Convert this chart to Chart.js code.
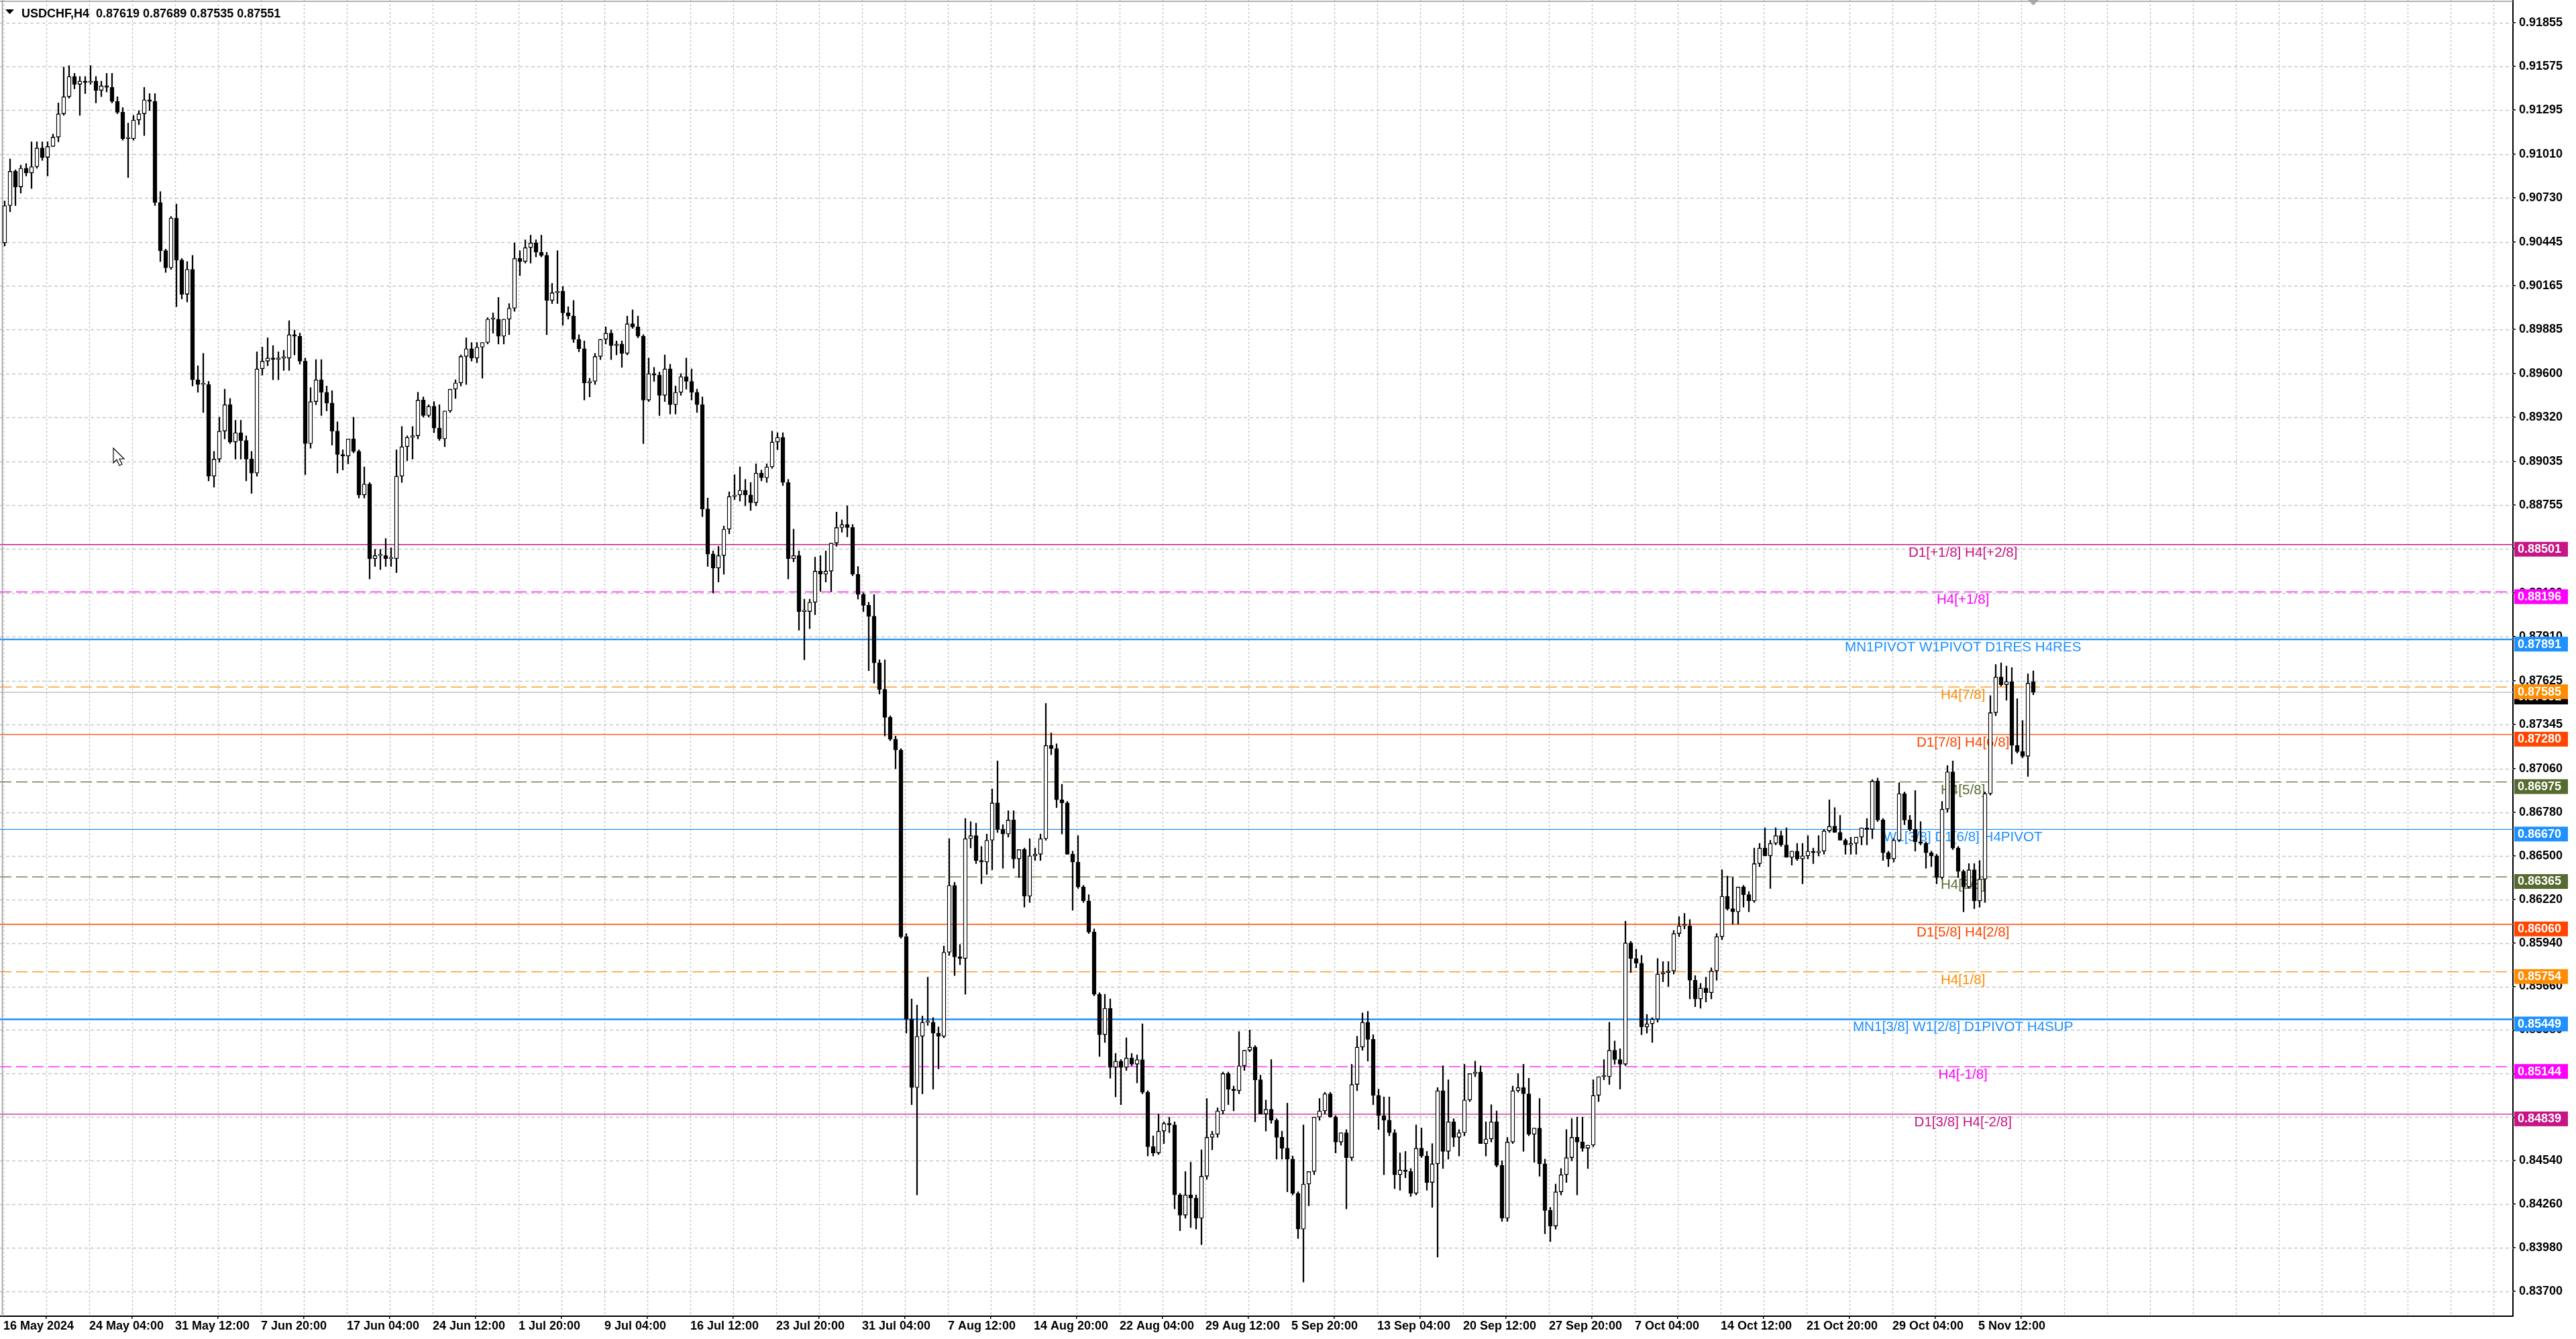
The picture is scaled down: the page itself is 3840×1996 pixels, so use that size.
<!DOCTYPE html>
<html>
<head>
<meta charset="utf-8">
<script src="https://cdn.jsdelivr.net/npm/chart.js@4.4.1/dist/chart.umd.min.js"></script>
<style>
html,body{margin:0;padding:0;background:#fff;overflow:hidden;}
#wrap{width:3840px;height:1996px;position:relative;}
canvas{display:block;}
</style>
</head>
<body>
<div id="wrap"><canvas id="c" width="3840" height="1996"></canvas></div>
<script>
// ---- data: USDCHF H4, each candle (two H4 bars per candle) ----
const OPEN = [
.9044,.9068,.9090,.9080,.9092,.9089,.9093,.9105,.9099,.9106,
.9112,.9127,.9138,.9151,.9146,.9148,.9147,.9148,.9142,.9145,
.9144,.9135,.9128,.9111,.9111,.9123,.9127,.9136,.9135,.9070,
.9039,.9028,.9060,.9033,.9011,.9027,.8956,.8953,.8953,.8894,
.8905,.8923,.8940,.8916,.8922,.8917,.8905,.8896,.8963,.8968,
.8970,.8969,.8970,.8970,.8985,.8984,.8968,.8915,.8942,.8956,
.8948,.8941,.8923,.8908,.8907,.8918,.8910,.8882,.8889,.8841,
.8843,.8843,.8841,.8841,.8894,.8913,.8919,.8920,.8943,.8933,
.8939,.8925,.8918,.8936,.8950,.8954,.8971,.8976,.8970,.8977,
.8980,.8995,.8995,.8984,.8995,.9002,.9034,.9032,.9041,.9044,
.9038,.9036,.9007,.9012,.9013,.8999,.8997,.8982,.8976,.8954,
.8955,.8971,.8982,.8986,.8978,.8979,.8973,.8992,.8990,.8984,
.8943,.8960,.8959,.8946,.8963,.8940,.8948,.8958,.8955,.8948,
.8940,.8873,.8844,.8835,.8843,.8860,.8881,.8882,.8885,.8882,
.8877,.8896,.8893,.8900,.8916,.8919,.8890,.8841,.8843,.8807,
.8807,.8813,.8833,.8831,.8833,.8851,.8861,.8863,.8861,.8831,
.8818,.8811,.8804,.8774,.8757,.8739,.8725,.8718,.8598,.8545,
.8501,.8534,.8543,.8543,.8536,.8534,.8588,.8631,.8585,.8584,
.8661,.8663,.8647,.8646,.8660,.8684,.8667,.8664,.8673,.8648,
.8654,.8624,.8650,.8651,.8661,.8721,.8719,.8686,.8684,.8651,
.8646,.8630,.8621,.8601,.8561,.8535,.8552,.8514,.8518,.8514,
.8520,.8516,.8519,.8498,.8463,.8459,.8473,.8478,.8477,.8432,
.8419,.8432,.8430,.8417,.8444,.8469,.8471,.8486,.8510,.8500,
.8499,.8515,.8525,.8527,.8506,.8484,.8487,.8480,.8469,.8462,
.8455,.8433,.8410,.8439,.8447,.8482,.8486,.8497,.8482,.8466,
.8472,.8456,.8503,.8527,.8543,.8532,.8496,.8483,.8480,.8472,
.8445,.8448,.8447,.8433,.8462,.8457,.8440,.8452,.8499,.8460,
.8479,.8469,.8472,.8493,.8510,.8511,.8465,.8468,.8479,.8451,
.8417,.8466,.8499,.8501,.8497,.8471,.8475,.8452,.8422,.8412,
.8434,.8445,.8456,.8469,.8466,.8462,.8464,.8496,.8508,.8508,
.8525,.8519,.8516,.8594,.8584,.8581,.8540,.8542,.8545,.8574,
.8575,.8576,.8600,.8605,.8605,.8570,.8558,.8565,.8562,.8576,
.8598,.8624,.8616,.8614,.8630,.8625,.8621,.8645,.8655,.8650,
.8658,.8663,.8657,.8649,.8653,.8648,.8650,.8653,.8652,.8653,
.8666,.8669,.8665,.8660,.8657,.8658,.8662,.8668,.8667,.8698,
.8673,.8652,.8648,.8660,.8690,.8673,.8667,.8659,.8658,.8652,
.8650,.8636,.8680,.8704,.8655,.8640,.8630,.8641,.8621,.8635,
.8690,.8742,.8765,.8760,.8762,.8721,.8717,.8714,.87619
];
const HIGH = [
.9071,.9098,.9091,.9094,.9095,.9109,.9109,.9109,.9109,.9114,
.9134,.9157,.9158,.9153,.9151,.9151,.9158,.9151,.9148,.9153,
.9153,.9138,.9131,.9121,.9126,.9129,.9144,.9140,.9140,.9077,
.9040,.9061,.9069,.9034,.9032,.9036,.8965,.8973,.8955,.8910,
.8932,.8950,.8944,.8930,.8930,.8920,.8910,.8974,.8977,.8983,
.8978,.8974,.8975,.8994,.8988,.8986,.8970,.8951,.8969,.8969,
.8952,.8949,.8929,.8911,.8918,.8932,.8911,.8900,.8890,.8847,
.8847,.8854,.8848,.8911,.8926,.8920,.8926,.8948,.8945,.8940,
.8942,.8940,.8936,.8950,.8956,.8972,.8983,.8980,.8980,.8980,
.8996,.8999,.9009,.8995,.9005,.9044,.9039,.9046,.9049,.9046,
.9049,.9038,.9018,.9039,.9016,.9003,.9007,.8985,.8981,.8957,
.8973,.8982,.8990,.8988,.8981,.8981,.8997,.9001,.8997,.8985,
.8970,.8964,.8961,.8972,.8966,.8952,.8960,.8970,.8963,.8950,
.8945,.8880,.8846,.8849,.8862,.8884,.8895,.8900,.8892,.8890,
.8902,.8898,.8902,.8923,.8922,.8922,.8892,.8860,.8846,.8815,
.8815,.8842,.8843,.8846,.8851,.8871,.8866,.8875,.8863,.8836,
.8819,.8813,.8818,.8776,.8776,.8740,.8727,.8719,.8600,.8558,
.8554,.8547,.8572,.8546,.8540,.8592,.8661,.8633,.8593,.8674,
.8672,.8671,.8656,.8664,.8693,.8711,.8670,.8679,.8679,.8654,
.8655,.8661,.8655,.8664,.8748,.8729,.8722,.8696,.8685,.8653,
.8663,.8631,.8625,.8603,.8562,.8561,.8558,.8523,.8519,.8533,
.8523,.8522,.8542,.8499,.8470,.8484,.8479,.8482,.8479,.8433,
.8447,.8453,.8432,.8461,.8494,.8473,.8488,.8511,.8511,.8502,
.8537,.8525,.8538,.8528,.8509,.8493,.8519,.8481,.8473,.8491,
.8457,.8434,.8477,.8447,.8482,.8494,.8498,.8498,.8483,.8472,
.8474,.8516,.8534,.8549,.8550,.8535,.8500,.8495,.8495,.8474,
.8459,.8460,.8449,.8477,.8475,.8460,.8465,.8501,.8515,.8506,
.8481,.8474,.8516,.8510,.8518,.8515,.8479,.8490,.8486,.8454,
.8469,.8502,.8510,.8516,.8507,.8475,.8494,.8455,.8424,.8439,
.8449,.8474,.8481,.8482,.8482,.8464,.8506,.8508,.8519,.8543,
.8531,.8526,.8608,.8595,.8590,.8586,.8548,.8546,.8584,.8582,
.8582,.8602,.8611,.8613,.8609,.8573,.8568,.8572,.8578,.8600,
.8641,.8637,.8636,.8630,.8631,.8627,.8655,.8658,.8668,.8660,
.8668,.8666,.8668,.8653,.8658,.8658,.8663,.8655,.8663,.8667,
.8686,.8681,.8676,.8661,.8662,.8662,.8668,.8674,.8699,.8700,
.8674,.8653,.8661,.8697,.8691,.8676,.8692,.8672,.8659,.8653,
.8651,.8685,.8708,.8711,.8656,.8641,.8645,.8645,.8647,.8691,
.8753,.8773,.8774,.8772,.8771,.8751,.8737,.8767,.87689
];
const LOW = [
.9042,.9064,.9068,.9076,.9087,.9079,.9092,.9097,.9087,.9106,
.9109,.9126,.9137,.9143,.9126,.9140,.9146,.9134,.9138,.9141,
.9134,.9127,.9110,.9086,.9110,.9120,.9113,.9129,.9068,.9032,
.9025,.9027,.9003,.9008,.9006,.8952,.8948,.8935,.8891,.8887,
.8903,.8918,.8915,.8905,.8905,.8891,.8883,.8894,.8959,.8965,
.8956,.8956,.8962,.8962,.8972,.8966,.8895,.8912,.8940,.8933,
.8936,.8914,.8896,.8898,.8902,.8909,.8880,.8880,.8828,.8836,
.8834,.8836,.8836,.8832,.8890,.8904,.8905,.8918,.8932,.8932,
.8922,.8917,.8913,.8935,.8944,.8952,.8953,.8968,.8967,.8957,
.8979,.8986,.8979,.8979,.8985,.9000,.9023,.9031,.9031,.9035,
.9035,.8985,.9005,.9005,.8991,.8995,.8980,.8974,.8943,.8945,
.8953,.8969,.8979,.8969,.8972,.8964,.8972,.8989,.8983,.8915,
.8942,.8955,.8933,.8942,.8934,.8934,.8946,.8950,.8943,.8935,
.8868,.8836,.8819,.8826,.8831,.8857,.8879,.8878,.8875,.8872,
.8875,.8891,.8890,.8899,.8911,.8888,.8828,.8839,.8795,.8776,
.8796,.8805,.8820,.8826,.8820,.8849,.8858,.8855,.8830,.8815,
.8807,.8769,.8761,.8754,.8727,.8724,.8706,.8597,.8536,.8490,
.8432,.8497,.8541,.8500,.8513,.8533,.8586,.8573,.8580,.8561,
.8655,.8645,.8632,.8638,.8641,.8665,.8642,.8662,.8642,.8636,
.8617,.8620,.8647,.8647,.8660,.8715,.8681,.8664,.8651,.8615,
.8629,.8620,.8600,.8560,.8521,.8530,.8507,.8495,.8490,.8512,
.8515,.8504,.8497,.8457,.8457,.8458,.8465,.8472,.8423,.8409,
.8417,.8411,.8410,.8400,.8442,.8461,.8469,.8484,.8490,.8486,
.8497,.8512,.8524,.8479,.8484,.8473,.8478,.8455,.8455,.8434,
.8432,.8404,.8376,.8425,.8445,.8480,.8484,.8482,.8459,.8464,
.8423,.8454,.8499,.8525,.8518,.8490,.8474,.8445,.8470,.8436,
.8435,.8443,.8431,.8432,.8456,.8435,.8424,.8392,.8449,.8455,
.8463,.8457,.8470,.8492,.8508,.8465,.8457,.8466,.8450,.8415,
.8415,.8465,.8498,.8460,.8470,.8453,.8444,.8407,.8402,.8410,
.8432,.8440,.8454,.8432,.8460,.8449,.8463,.8492,.8506,.8503,
.8516,.8500,.8515,.8575,.8578,.8535,.8536,.8530,.8543,.8569,
.8566,.8574,.8598,.8603,.8558,.8553,.8552,.8556,.8558,.8570,
.8596,.8615,.8606,.8606,.8617,.8614,.8620,.8643,.8650,.8629,
.8657,.8656,.8649,.8644,.8647,.8632,.8648,.8645,.8650,.8651,
.8665,.8665,.8660,.8651,.8651,.8651,.8657,.8657,.8661,.8672,
.8647,.8643,.8646,.8659,.8670,.8666,.8653,.8657,.8642,.8643,
.8632,.8635,.8678,.8654,.8636,.8614,.8629,.8616,.8617,.8620,
.8689,.8740,.8759,.8750,.8709,.8716,.8713,.8701,.87535
];
const CLOSE = [
.9068,.9090,.9080,.9092,.9089,.9093,.9105,.9099,.9106,.9112,
.9127,.9138,.9151,.9146,.9148,.9147,.9148,.9142,.9145,.9144,
.9135,.9128,.9111,.9111,.9123,.9127,.9136,.9135,.9070,.9039,
.9028,.9060,.9033,.9011,.9027,.8956,.8953,.8953,.8894,.8905,
.8923,.8940,.8916,.8922,.8917,.8905,.8896,.8963,.8968,.8970,
.8969,.8970,.8970,.8985,.8984,.8968,.8915,.8942,.8956,.8948,
.8941,.8923,.8908,.8907,.8918,.8910,.8882,.8889,.8841,.8843,
.8843,.8841,.8841,.8894,.8913,.8919,.8920,.8943,.8933,.8939,
.8925,.8918,.8936,.8950,.8954,.8971,.8976,.8970,.8977,.8980,
.8995,.8995,.8984,.8995,.9002,.9034,.9032,.9041,.9044,.9038,
.9036,.9007,.9012,.9013,.8999,.8997,.8982,.8976,.8954,.8955,
.8971,.8982,.8986,.8978,.8979,.8973,.8992,.8990,.8984,.8943,
.8960,.8959,.8946,.8963,.8940,.8948,.8958,.8955,.8948,.8940,
.8873,.8844,.8835,.8843,.8860,.8881,.8882,.8885,.8882,.8877,
.8896,.8893,.8900,.8916,.8919,.8890,.8841,.8843,.8807,.8807,
.8813,.8833,.8831,.8833,.8851,.8861,.8863,.8861,.8831,.8818,
.8811,.8804,.8774,.8757,.8739,.8725,.8718,.8598,.8545,.8501,
.8534,.8543,.8543,.8536,.8534,.8588,.8631,.8585,.8584,.8661,
.8663,.8647,.8646,.8660,.8684,.8667,.8664,.8673,.8648,.8654,
.8624,.8650,.8651,.8661,.8721,.8719,.8686,.8684,.8651,.8646,
.8630,.8621,.8601,.8561,.8535,.8552,.8514,.8518,.8514,.8520,
.8516,.8519,.8498,.8463,.8459,.8473,.8478,.8477,.8432,.8419,
.8432,.8430,.8417,.8444,.8469,.8471,.8486,.8510,.8500,.8499,
.8515,.8525,.8527,.8506,.8484,.8487,.8480,.8469,.8462,.8455,
.8433,.8410,.8439,.8447,.8482,.8486,.8497,.8482,.8466,.8472,
.8456,.8503,.8527,.8543,.8532,.8496,.8483,.8480,.8472,.8445,
.8448,.8447,.8433,.8462,.8457,.8440,.8452,.8499,.8460,.8479,
.8469,.8472,.8493,.8510,.8511,.8465,.8468,.8479,.8451,.8417,
.8466,.8499,.8501,.8497,.8471,.8475,.8452,.8422,.8412,.8434,
.8445,.8456,.8469,.8466,.8462,.8464,.8496,.8508,.8508,.8525,
.8519,.8516,.8594,.8584,.8581,.8540,.8542,.8545,.8574,.8575,
.8576,.8600,.8605,.8605,.8570,.8558,.8565,.8562,.8576,.8598,
.8624,.8616,.8614,.8630,.8625,.8621,.8645,.8655,.8650,.8658,
.8663,.8657,.8649,.8653,.8648,.8650,.8653,.8652,.8653,.8666,
.8669,.8665,.8660,.8657,.8658,.8662,.8668,.8667,.8698,.8673,
.8652,.8648,.8660,.8690,.8673,.8667,.8659,.8658,.8652,.8650,
.8636,.8680,.8704,.8655,.8640,.8630,.8641,.8621,.8635,.8690,
.8742,.8765,.8760,.8762,.8721,.8717,.8714,.8761,.87551
];

// time-axis labels (one every 16 candles)
const X_LABELS = ["16 May 2024","24 May 04:00","31 May 12:00","7 Jun 20:00","17 Jun 04:00",
  "24 Jun 12:00","1 Jul 20:00","9 Jul 04:00","16 Jul 12:00","23 Jul 20:00","31 Jul 04:00",
  "7 Aug 12:00","14 Aug 20:00","22 Aug 04:00","29 Aug 12:00","5 Sep 20:00","13 Sep 04:00",
  "20 Sep 12:00","27 Sep 20:00","7 Oct 04:00","14 Oct 12:00","21 Oct 20:00","29 Oct 04:00","5 Nov 12:00"];

// price-axis tick values
const Y_TICKS = [0.91855,0.91575,0.91295,0.91010,0.90730,0.90445,0.90165,0.89885,0.89600,0.89320,
  0.89035,0.88755,0.88475,0.88190,0.87910,0.87625,0.87345,0.87060,0.86780,0.86500,0.86220,
  0.85940,0.85660,0.85380,0.85100,0.84820,0.84540,0.84260,0.83980,0.83700];

// horizontal levels
const LEVELS = [0.88501,0.88196,0.87891,0.87585,0.87280,0.86975,0.86670,0.86365,0.86060,0.85754,0.85449,0.85144,0.84839];
const LEVEL_TEXT = ["D1[+1/8] H4[+2/8]","H4[+1/8]","MN1PIVOT W1PIVOT D1RES H4RES","H4[7/8]","D1[7/8] H4[6/8]",
  "H4[5/8]","W1[3/8] D1[6/8] H4PIVOT","H4[3/8]","D1[5/8] H4[2/8]","H4[1/8]","MN1[3/8] W1[2/8] D1PIVOT H4SUP",
  "H4[-1/8]","D1[3/8] H4[-2/8]"];
const SYMBOL = "USDCHF,H4";
const BID = 0.87551;

// ---- styles ----
const LEVEL_COLOR = ['#C71585','#FF00FF','#1E90FF','#FF8C00','#FF4500','#556B2F','#1E90FF','#556B2F','#FF4500','#FF8C00','#1E90FF','#FF00FF','#C71585'];
const LEVEL_DASHED = [false,true,false,true,false,true,false,true,false,true,false,true,false];
const LEVEL_WIDTH = [1.3,1.3,2.4,1.3,1.3,1.3,1.3,1.3,1.3,1.3,2.4,1.3,1.3];
const AXIS_FONT = {family:'"Liberation Sans", Arial, sans-serif', size:18, weight:'bold'};
const LABEL_INDEX = 364.9;     // centre of the level captions, in candle units
const LABEL_SPACING = 16;      // candles between time labels

const idx = OPEN.map((_, i) => i);
const bodyData = idx.map(i => ({x: i, y: [OPEN[i], CLOSE[i]]}));
const wickData = idx.map(i => ({x: i, y: [LOW[i], HIGH[i]]}));
const bodyFill = idx.map(i => CLOSE[i] >= OPEN[i] ? '#ffffff' : '#000000');

function hline(ctx, x1, x2, y) { ctx.beginPath(); ctx.moveTo(x1, y); ctx.lineTo(x2, y); ctx.stroke(); }
function vline(ctx, x, y1, y2) { ctx.beginPath(); ctx.moveTo(x, y1); ctx.lineTo(x, y2); ctx.stroke(); }
function noPad(s) { s.paddingTop = 0; s.paddingBottom = 0; s.paddingLeft = 0; s.paddingRight = 0; }

const bgPlugin = {
  id: 'bg',
  beforeDraw(chart) {
    const c = chart.ctx; c.save(); c.fillStyle = '#fff'; c.fillRect(0, 0, chart.width, chart.height); c.restore();
  }
};

const backPlugin = {
  id: 'back',
  beforeDatasetsDraw(chart) {
    const c = chart.ctx, ca = chart.chartArea, xs = chart.scales.x, ys = chart.scales.y;
    c.save();
    c.beginPath(); c.rect(ca.left, ca.top, ca.right - ca.left, ca.bottom - ca.top); c.clip();
    // grid
    c.strokeStyle = '#c6c6c6'; c.lineWidth = 1.4;
    c.setLineDash([5, 4]);
    Y_TICKS.forEach(v => hline(c, ca.left, ca.right, Math.round(ys.getPixelForValue(v)) + 0.5));
    c.setLineDash([3, 3]);
    for (let j = -0.25; xs.getPixelForValue(j) < ca.right - 2; j += LABEL_SPACING / 2) {
      vline(c, Math.round(xs.getPixelForValue(j)) + 0.5, ca.top, ca.bottom);
    }
    // bid line
    c.setLineDash([]); c.strokeStyle = '#c0c0c0'; c.lineWidth = 1.3;
    hline(c, ca.left, ca.right, ys.getPixelForValue(BID));
    // levels + captions
    c.font = '20.6px "Liberation Sans", Arial, sans-serif';
    c.textAlign = 'center'; c.textBaseline = 'alphabetic';
    const lx = xs.getPixelForValue(LABEL_INDEX);
    LEVELS.forEach((v, i) => {
      const y = ys.getPixelForValue(v);
      c.strokeStyle = LEVEL_COLOR[i]; c.lineWidth = LEVEL_WIDTH[i];
      c.setLineDash(LEVEL_DASHED[i] ? [17, 7] : []);
      hline(c, ca.left, ca.right, y);
      c.fillStyle = LEVEL_COLOR[i];
      c.fillText(LEVEL_TEXT[i], lx, y + 18);
    });
    // frame (top / left)
    c.setLineDash([]); c.strokeStyle = '#9a9a9a'; c.lineWidth = 1.5;
    hline(c, 0, ca.right, 2); vline(c, 3.5, 0, ca.bottom);
    c.restore();
  }
};

const frontPlugin = {
  id: 'front',
  afterDraw(chart) {
    const c = chart.ctx, ca = chart.chartArea, xs = chart.scales.x, ys = chart.scales.y;
    c.save();
    // price boxes on the axis
    c.font = 'bold 18px "Liberation Sans", Arial, sans-serif';
    c.textAlign = 'left'; c.textBaseline = 'middle';
    const box = (v, col) => {
      const y = ys.getPixelForValue(v);
      c.fillStyle = col; c.fillRect(ca.right + 2, y - 4, 80, 22);
      c.fillStyle = '#fff'; c.fillText(v.toFixed(5), ca.right + 7, y + 7.5);
    };
    box(BID, '#000');
    LEVELS.forEach((v, i) => box(v, LEVEL_COLOR[i]));
    // header
    const n = OPEN.length - 1;
    c.fillStyle = '#000';
    c.beginPath(); c.moveTo(8, 14); c.lineTo(21, 14); c.lineTo(14.5, 21); c.closePath(); c.fill();
    c.textBaseline = 'alphabetic';
    c.fillText(SYMBOL + '  ' + [OPEN[n], HIGH[n], LOW[n], CLOSE[n]].map(v => v.toFixed(5)).join(' '), 32, 26);
    // chart-shift marker
    const sx = xs.getPixelForValue(n);
    c.fillStyle = '#a8a8a8';
    c.beginPath(); c.moveTo(sx - 8, 0); c.lineTo(sx + 8, 0); c.lineTo(sx, 8); c.closePath(); c.fill();
    // mouse cursor
    c.translate(169, 668);
    c.beginPath();
    c.moveTo(0, 0); c.lineTo(0, 22); c.lineTo(5, 17); c.lineTo(9, 26); c.lineTo(13, 24);
    c.lineTo(9, 16); c.lineTo(16, 16); c.closePath();
    c.fillStyle = '#fff'; c.fill(); c.strokeStyle = '#000'; c.lineWidth = 1.2; c.stroke();
    c.restore();
  }
};

new Chart(document.getElementById('c').getContext('2d'), {
  type: 'bar',
  data: {
    datasets: [
      {data: bodyData, backgroundColor: bodyFill, borderColor: '#000', borderWidth: 1.4,
       borderSkipped: false, barThickness: 6, minBarLength: 2, grouped: false, order: 0},
      {data: wickData, backgroundColor: '#000', borderWidth: 0, barThickness: 1.6, grouped: false, order: 1}
    ]
  },
  options: {
    responsive: false, animation: false, devicePixelRatio: 1,
    layout: {padding: 0, autoPadding: false},
    plugins: {legend: {display: false}, tooltip: {enabled: false}},
    scales: {
      x: {
        type: 'linear', min: -0.875, max: 467.375, offset: false, bounds: 'data',
        afterBuildTicks: s => { s.ticks = X_LABELS.map((t, m) => ({value: LABEL_SPACING * m - 0.25})); },
        afterFit: s => { s.height = 34; noPad(s); },
        ticks: {autoSkip: false, maxRotation: 0, minRotation: 0, align: 'start', padding: 0,
                color: '#000', font: AXIS_FONT, callback: (v, i) => X_LABELS[i]},
        grid: {display: true, drawOnChartArea: false, drawTicks: true, tickLength: 4, color: '#000', lineWidth: 1.5},
        border: {display: true, color: '#000', width: 2}
      },
      y: {
        type: 'linear', position: 'right', min: 0.835404, max: 0.920016, bounds: 'data',
        afterBuildTicks: s => { s.ticks = Y_TICKS.map(v => ({value: v})); },
        afterFit: s => { s.width = 94; noPad(s); },
        ticks: {autoSkip: false, padding: 5, color: '#000', font: AXIS_FONT, callback: v => Number(v).toFixed(5)},
        grid: {display: true, drawOnChartArea: false, drawTicks: true, tickLength: 4, color: '#000', lineWidth: 1.5},
        border: {display: true, color: '#000', width: 2}
      }
    }
  },
  plugins: [bgPlugin, backPlugin, frontPlugin]
});
</script>
</body>
</html>
